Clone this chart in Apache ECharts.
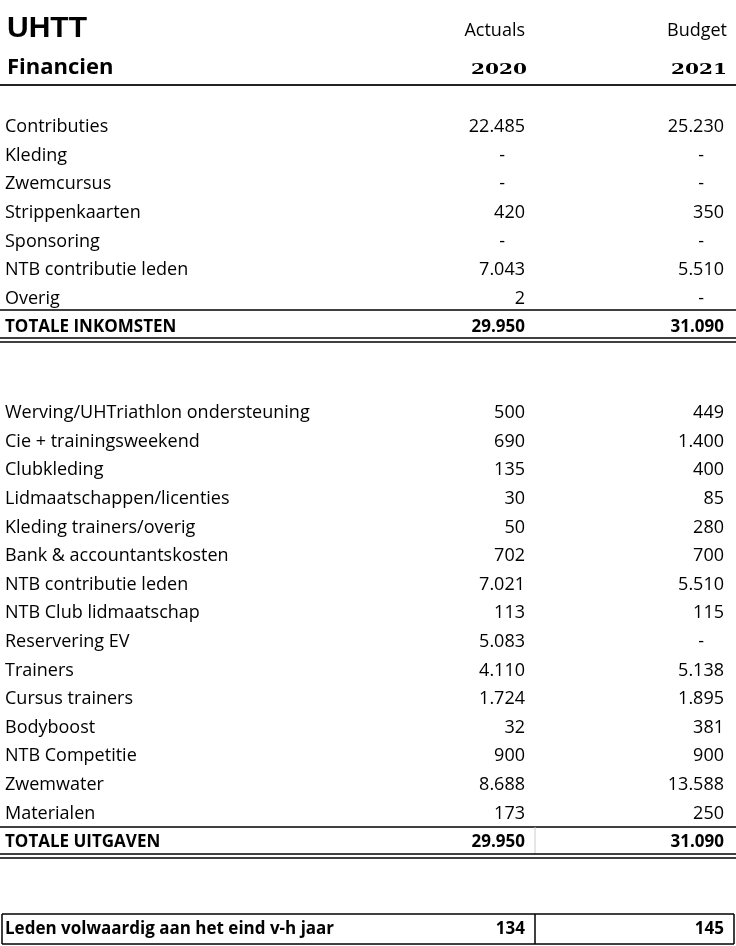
<!DOCTYPE html>
<html>
<head>
<meta charset="utf-8">
<script src="https://cdn.jsdelivr.net/npm/echarts@6/dist/echarts.min.js"></script>
<style>
  html, body { margin: 0; padding: 0; background: #fff; }
  #main { width: 736px; height: 946px; }
</style>
</head>
<body>
<div id="main"></div>
<script>
// gegevens
var incomeLabels = ['Contributies', 'Kleding', 'Zwemcursus', 'Strippenkaarten', 'Sponsoring', 'NTB contributie leden', 'Overig']
var incomeActuals = [22485, null, null, 420, null, 7043, 2]
var incomeBudget = [25230, null, null, 350, null, 5510, null]
var incomeTotal = [29950, 31090]

var expenseLabels = ['Werving/UHTriathlon ondersteuning', 'Cie + trainingsweekend', 'Clubkleding', 'Lidmaatschappen/licenties',
  'Kleding trainers/overig', 'Bank & accountantskosten', 'NTB contributie leden', 'NTB Club lidmaatschap', 'Reservering EV',
  'Trainers', 'Cursus trainers', 'Bodyboost', 'NTB Competitie', 'Zwemwater', 'Materialen']
var expenseActuals = [500, 690, 135, 30, 50, 702, 7021, 113, 5083, 4110, 1724, 32, 900, 8688, 173]
var expenseBudget = [449, 1400, 400, 85, 280, 700, 5510, 115, null, 5138, 1895, 381, 900, 13588, 250]
var expenseTotal = [29950, 31090]

var members = [134, 145]
var headers = ['Actuals', 'Budget']
var years = ['2020', '2021']

// layout (kolommen in px, rijen in rij-eenheden)
var COL_LABEL = 5
var COL_A = 525
var COL_B = 724
var DASH_PAD = 20
var FONT = '18px "Open Sans"'
var FONT_B = 'bold 17px "Open Sans"'
var FONT_YEAR = 'bold 18px "DejaVu Serif"'

function fmt (v) {
  if (v === null) return '-'
  return String(v).replace(/\B(?=(\d{3})+(?!\d))/g, '.')
}

var cells = []
function addCell (x, row, text, align, font, sx, sy) {
  cells.push({ x: x, row: row, text: text, align: align, font: font, sx: sx || 1, sy: sy || 1 })
}
function addRow (row, label, a, b, font) {
  addCell(COL_LABEL, row, label, 'left', font)
  addCell(a === null ? COL_A - DASH_PAD : COL_A, row, fmt(a), 'right', font)
  addCell(b === null ? COL_B - DASH_PAD : COL_B, row, fmt(b), 'right', font)
}

addCell(7, -3.45, 'UHTT', 'left', 'bold 30px "Liberation Sans"')
addCell(7, -2.08, 'Financien', 'left', 'bold 22px "Open Sans"')
addCell(COL_A, -3.35, headers[0], 'right', FONT)
addCell(727, -3.35, headers[1], 'right', FONT)
addCell(527, -1.98, years[0], 'right', FONT_YEAR, 1.12, 0.85)
addCell(727, -1.98, years[1], 'right', FONT_YEAR, 1.12, 0.85)

incomeLabels.forEach(function (l, i) { addRow(i, l, incomeActuals[i], incomeBudget[i], FONT) })
addRow(7, 'TOTALE INKOMSTEN', incomeTotal[0], incomeTotal[1], FONT_B)
expenseLabels.forEach(function (l, i) { addRow(10 + i, l, expenseActuals[i], expenseBudget[i], FONT) })
addRow(25, 'TOTALE UITGAVEN', expenseTotal[0], expenseTotal[1], FONT_B)
addRow(28.05, 'Leden volwaardig aan het eind v-h jaar', members[0], members[1], FONT_B)

// lijnen: [x1, row1, x2, row2, breedte, kleur]
var rules = [
  [0, -1.47, 736, -1.47, 2, '#222'],
  [0, 6.4, 736, 6.4, 1.5, '#000'],
  [0, 7.38, 736, 7.38, 1.5, '#000'],
  [0, 7.5, 736, 7.5, 1.5, '#000'],
  [0, 24.48, 736, 24.48, 1.5, '#000'],
  [535, 24.48, 535, 25.42, 1, '#ccc'],
  [0, 25.42, 736, 25.42, 1.5, '#000'],
  [0, 25.56, 736, 25.56, 1.5, '#000'],
  [2, 27.52, 734, 27.52, 1.5, '#000'],
  [2, 28.57, 734, 28.57, 1.5, '#000'],
  [2, 27.52, 2, 28.57, 1.5, '#000'],
  [535, 27.52, 535, 28.57, 1.5, '#000'],
  [734, 27.52, 734, 28.57, 1.5, '#000']
]

var myChart = echarts.init(document.getElementById('main'))
myChart.setOption({
  animation: false,
  grid: { left: 0, right: 0, top: 12.6, bottom: 946 - (12.6 + 32 * 28.6) },
  xAxis: { type: 'value', min: 0, max: 736, show: false },
  yAxis: { type: 'value', min: -4, max: 28, inverse: true, show: false },
  series: [{
    type: 'custom',
    clip: false,
    data: rules.map(function (r) { return [r[0], r[1], r[2], r[3]] }),
    renderItem: function (params, api) {
      var r = rules[params.dataIndex]
      var p1 = api.coord([api.value(0), api.value(1)])
      var p2 = api.coord([api.value(2), api.value(3)])
      return {
        type: 'line',
        shape: { x1: p1[0], y1: Math.round(p1[1]), x2: p2[0], y2: Math.round(p2[1]) },
        style: { stroke: r[5], lineWidth: r[4] }
      }
    }
  }, {
    type: 'custom',
    clip: false,
    data: cells.map(function (c) { return [c.x, c.row] }),
    renderItem: function (params, api) {
      var c = cells[params.dataIndex]
      var p = api.coord([api.value(0), api.value(1)])
      return {
        type: 'text',
        x: p[0],
        y: p[1],
        scaleX: c.sx,
        scaleY: c.sy,
        style: { text: c.text, font: c.font, fill: '#000', align: c.align, verticalAlign: 'middle' }
      }
    }
  }]
})
</script>
</body>
</html>
